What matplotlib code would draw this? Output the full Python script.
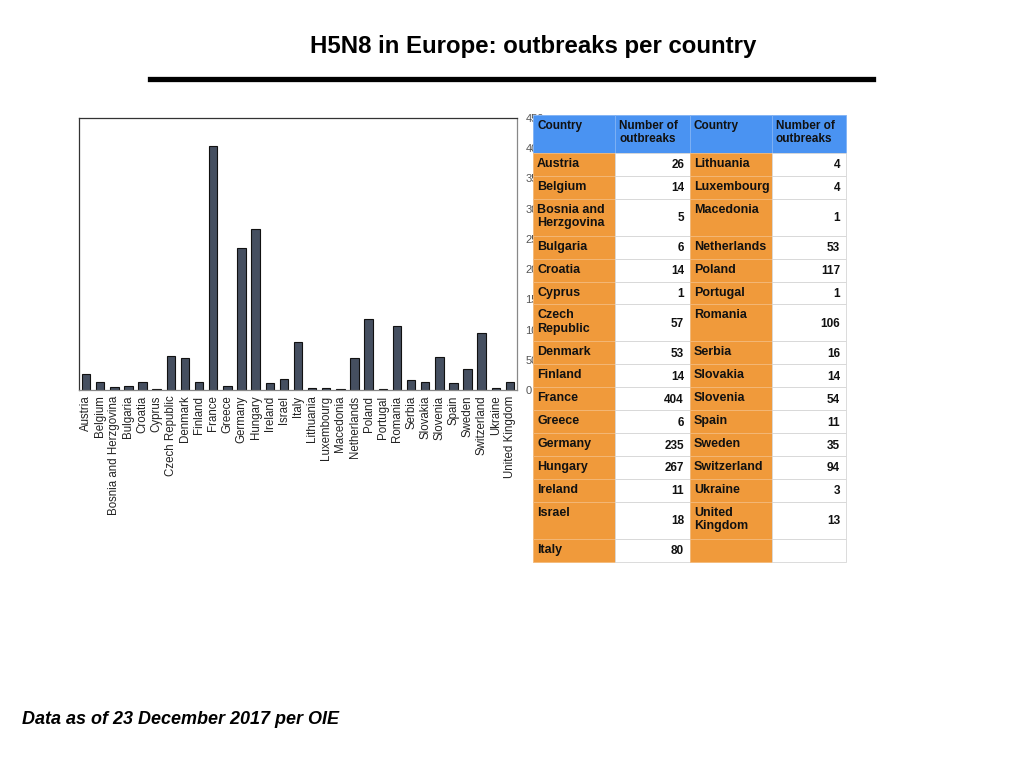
import matplotlib
matplotlib.use("Agg")
import matplotlib.pyplot as plt
from matplotlib.patches import Rectangle
from matplotlib.lines import Line2D

plt.rcParams['font.family'] = ['Liberation Sans', 'DejaVu Sans']

# outbreaks per country (OIE, 23 Dec 2017)
countries = ["Austria", "Belgium", "Bosnia and Herzgovina", "Bulgaria", "Croatia",
             "Cyprus", "Czech Republic", "Denmark", "Finland", "France", "Greece",
             "Germany", "Hungary", "Ireland", "Israel", "Italy", "Lithuania",
             "Luxembourg", "Macedonia", "Netherlands", "Poland", "Portugal",
             "Romania", "Serbia", "Slovakia", "Slovenia", "Spain", "Sweden",
             "Switzerland", "Ukraine", "United Kingdom"]
outbreaks = [26, 14, 5, 6, 14, 1, 57, 53, 14, 404, 6, 235, 267, 11, 18, 80, 4,
             4, 1, 53, 117, 1, 106, 16, 14, 54, 11, 35, 94, 3, 13]

# table cells (wrapped as in the slide)
left_names = ["Austria", "Belgium", "Bosnia and\nHerzgovina", "Bulgaria", "Croatia",
              "Cyprus", "Czech\nRepublic", "Denmark", "Finland", "France", "Greece",
              "Germany", "Hungary", "Ireland", "Israel", "Italy"]
right_names = ["Lithuania", "Luxembourg", "Macedonia", "Netherlands", "Poland",
               "Portugal", "Romania", "Serbia", "Slovakia", "Slovenia", "Spain",
               "Sweden", "Switzerland", "Ukraine", "United\nKingdom", ""]
left_vals = outbreaks[:16]
right_vals = outbreaks[16:] + [None]
double_rows = [2, 6, 14]

W, H = 1024, 768
fig = plt.figure(figsize=(W / 100, H / 100), dpi=100)

def px_axes(l, t, r, b):
    return [l / W, 1 - b / H, (r - l) / W, (b - t) / H]

# bar chart
ax = fig.add_axes(px_axes(79, 118, 517, 390))
ax.bar(range(len(countries)), outbreaks, width=0.6, color='#454f60',
       edgecolor='#111111', linewidth=0.8)
ax.set_xlim(-0.5, len(countries) - 0.5)
ax.set_ylim(0, 450)
ax.set_yticks(range(0, 451, 50))
ax.yaxis.tick_right()
ax.tick_params(axis='y', length=0, pad=6, labelsize=8, labelcolor='#555555')
ax.set_xticks(range(len(countries)))
ax.set_xticklabels(countries, rotation=90, fontsize=8.3, color='#222222')
ax.tick_params(axis='x', length=0, pad=4)
for s in ax.spines.values():
    s.set_color('#888888')
    s.set_linewidth(0.9)
ax.spines['top'].set_color('#333333')
ax.spines['left'].set_color('#333333')

# overlay in pixel coords: title, rule, table, footer
ov = fig.add_axes([0, 0, 1, 1], zorder=5)
ov.set_xlim(0, W)
ov.set_ylim(H, 0)
ov.axis('off')
ov.patch.set_alpha(0)

ov.text(533, 46, "H5N8 in Europe: outbreaks per country", ha='center', va='center',
        fontsize=17.3, fontweight='bold', family=['Liberation Sans Narrow', 'Liberation Sans'])
ov.add_line(Line2D([150, 873], [78.5, 78.5], color='black', linewidth=3.8))
ov.text(22, 720, "Data as of 23 December 2017 per OIE", ha='left', va='center',
        fontsize=13, fontweight='bold', style='italic')

blue = '#4a93f2'
orange = '#f09a3b'
grid = '#d6d6d6'
cols = [533, 615, 690, 772, 846]
fs = 9

top = 115
hh = 38
for i, label in enumerate(["Country", "Number of\noutbreaks", "Country", "Number of\noutbreaks"]):
    ov.add_patch(Rectangle((cols[i], top), cols[i + 1] - cols[i], hh, facecolor=blue,
                           edgecolor='#7fb2f5', linewidth=0.6))
    ov.text(cols[i] + 4, top + 5, label, ha='left', va='top', fontsize=8.5,
            fontweight='bold', color='#111111', linespacing=1.15)

y = top + hh
for r in range(len(left_names)):
    h = 37 if r in double_rows else 22.9
    row = [(left_names[r], left_vals[r]), (right_names[r], right_vals[r])]
    for k, (name, val) in enumerate(row):
        x0, x1, x2 = cols[2 * k], cols[2 * k + 1], cols[2 * k + 2]
        ov.add_patch(Rectangle((x0, y), x1 - x0, h, facecolor=orange,
                               edgecolor='#f4b979', linewidth=0.6))
        ov.add_patch(Rectangle((x1, y), x2 - x1, h, facecolor='white',
                               edgecolor=grid, linewidth=0.6))
        if name:
            ov.text(x0 + 4, y + 5, name, ha='left', va='top', fontsize=fs,
                    fontweight='bold', color='#111111', linespacing=1.15)
        if val is not None:
            ov.text(x2 - 6, y + h / 2 + 1, str(val), ha='right', va='center',
                    fontsize=8.5, fontweight='bold', color='#111111')
    y += h

fig.savefig("out.png", dpi=100)
